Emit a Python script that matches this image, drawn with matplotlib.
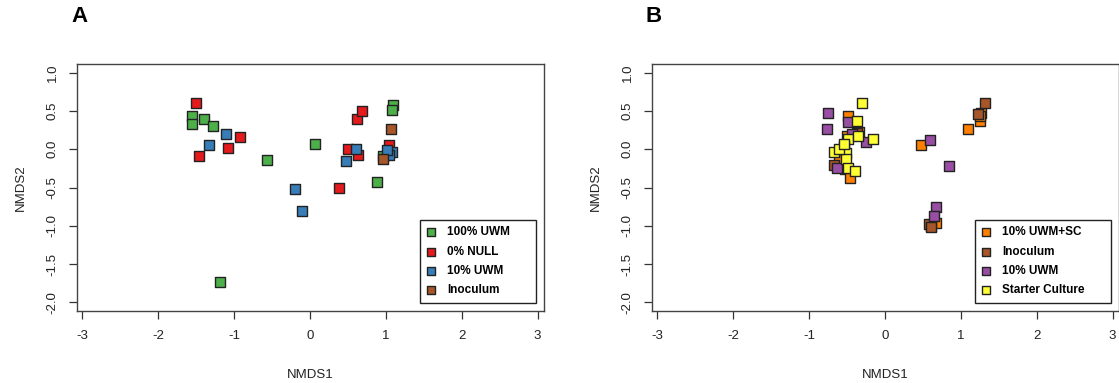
import matplotlib
matplotlib.use("Agg")
import matplotlib.pyplot as plt
from matplotlib.patches import Rectangle

plt.rcParams["font.family"] = ["Liberation Sans", "DejaVu Sans"]
plt.rcParams["font.size"] = 9.5

# ---------------- panel A ----------------
uwm100_x = [-1.55, -1.55, -1.39, -1.27, -0.56, 0.07, -1.18, 0.89, 1.10, 1.08, 0.96]
uwm100_y = [0.44, 0.33, 0.39, 0.30, -0.14, 0.07, -1.73, -0.43, 0.58, 0.51, -0.09]
null_x = [-1.50, -1.46, -1.08, -0.92, 0.39, 0.50, 0.64, 0.62, 0.69, 1.04]
null_y = [0.61, -0.09, 0.02, 0.16, -0.51, 0.00, -0.08, 0.39, 0.50, 0.05]
uwm10_x = [-1.33, -1.11, -0.20, -0.10, 0.48, 0.61, 1.08, 1.04, 1.02]
uwm10_y = [0.06, 0.20, -0.52, -0.81, -0.16, 0.00, -0.03, -0.08, -0.01]
inoc_a_x = [1.07, 0.97]
inoc_a_y = [0.26, -0.13]

# ---------------- panel B ----------------
sc_x = [0.47, 1.09, 1.26, 1.27, 1.25, -0.48, -0.34, -0.50, -0.60, -0.53, -0.46, 0.67, 0.61]
sc_y = [0.05, 0.27, 0.37, 0.48, 0.44, 0.44, 0.22, 0.17, -0.13, -0.26, -0.37, -0.96, -1.00]
inoc_b_x = [1.32, 1.23, -0.67, 0.58, 0.61, -0.36]
inoc_b_y = [0.60, 0.46, -0.20, -0.98, -1.01, 0.21]
uwm10_b_x = [-0.75, -0.76, -0.48, -0.25, -0.43, 0.60, 0.85, 0.67, 0.65, -0.63]
uwm10_b_y = [0.48, 0.26, 0.36, 0.10, 0.20, 0.12, -0.22, -0.75, -0.87, -0.24]
starter_x = [-0.30, -0.37, -0.16, -0.48, -0.67, -0.54, -0.51, -0.51, -0.48, -0.39, -0.61, -0.35, -0.54]
starter_y = [0.61, 0.37, 0.13, 0.13, -0.03, 0.04, -0.05, -0.13, -0.24, -0.29, 0.00, 0.17, 0.07]

x_ticks = [-3, -2, -1, 0, 1, 2, 3]
y_ticks = [-2.0, -1.5, -1.0, -0.5, 0.0, 0.5, 1.0]

green = "#4DAF4A"
red = "#E41A1C"
blue = "#377EB8"
brown = "#A65628"
orange = "#FF7F00"
purple = "#984EA3"
yellow = "#FFFF33"

panels = {
    "A": [(uwm100_x, uwm100_y, green, "100% UWM"),
          (null_x, null_y, red, "0% NULL"),
          (uwm10_x, uwm10_y, blue, "10% UWM"),
          (inoc_a_x, inoc_a_y, brown, "Inoculum")],
    "B": [(sc_x, sc_y, orange, "10% UWM+SC"),
          (inoc_b_x, inoc_b_y, brown, "Inoculum"),
          (uwm10_b_x, uwm10_b_y, purple, "10% UWM"),
          (starter_x, starter_y, yellow, "Starter Culture")],
}

W, H = 1119, 383
fig = plt.figure(figsize=(W / 100, H / 100), dpi=100)

lefts = {"A": 76.7, "B": 651.7}
extra = 20  # R leaves extra room on the right of the legend text
legends = []
for name, series in panels.items():
    left = lefts[name]
    ax = fig.add_axes([left / W, 1 - 310.7 / H, 467 / W, (310.7 - 64.3) / H])
    for xs, ys, col, lab in series:
        ax.scatter(xs, ys, s=56, marker="s", color=col, edgecolors="#222222",
                   linewidths=1.0, label=lab, zorder=3)
    ax.set_xlim(-3.07, 3.08)
    ax.set_ylim(-2.11, 1.11)
    ax.set_xticks(x_ticks)
    ax.set_yticks(y_ticks)
    ax.set_xticklabels([str(v) for v in x_ticks])
    ax.set_yticklabels(["%.1f" % v for v in y_ticks], rotation=90, va="center")
    ax.tick_params(direction="out", length=6, width=0.9, colors="#333333",
                   labelcolor="#222222")
    ax.tick_params(axis="x", pad=8)
    ax.tick_params(axis="y", pad=7)
    for sp in ax.spines.values():
        sp.set_color("#444444")
        sp.set_linewidth(1.0)
    ax.set_xlabel("NMDS1", color="#222222", labelpad=19)
    ax.set_ylabel("NMDS2", color="#222222", labelpad=14)
    leg = ax.legend(loc="lower right",
                    bbox_to_anchor=(0.984 - extra / 467, 0.032),
                    borderaxespad=0, frameon=False, scatterpoints=1,
                    markerscale=0.75, handletextpad=0.98, handlelength=0.75,
                    labelspacing=0.62, borderpad=0.55,
                    prop={"weight": "bold", "size": 8.5})
    leg.set_zorder(5)
    legends.append((ax, leg))
    # panel letter
    fig.text((left + 2.3) / W, 1 - 16 / H, name,
             fontsize=16, fontweight="bold", ha="center", va="center")

# legend boxes: the legend extent, widened on the right like R's
fig.canvas.draw()
for ax, leg in legends:
    bb = leg.get_window_extent()
    inv = ax.transAxes.inverted()
    (x0, y0), (x1, y1) = inv.transform([(bb.x0, bb.y0), (bb.x1 + extra, bb.y1)])
    ax.add_patch(Rectangle((x0, y0), x1 - x0, y1 - y0, transform=ax.transAxes,
                           facecolor="white", edgecolor="#222222",
                           linewidth=1.0, zorder=4))

fig.savefig("out.png", dpi=100)
